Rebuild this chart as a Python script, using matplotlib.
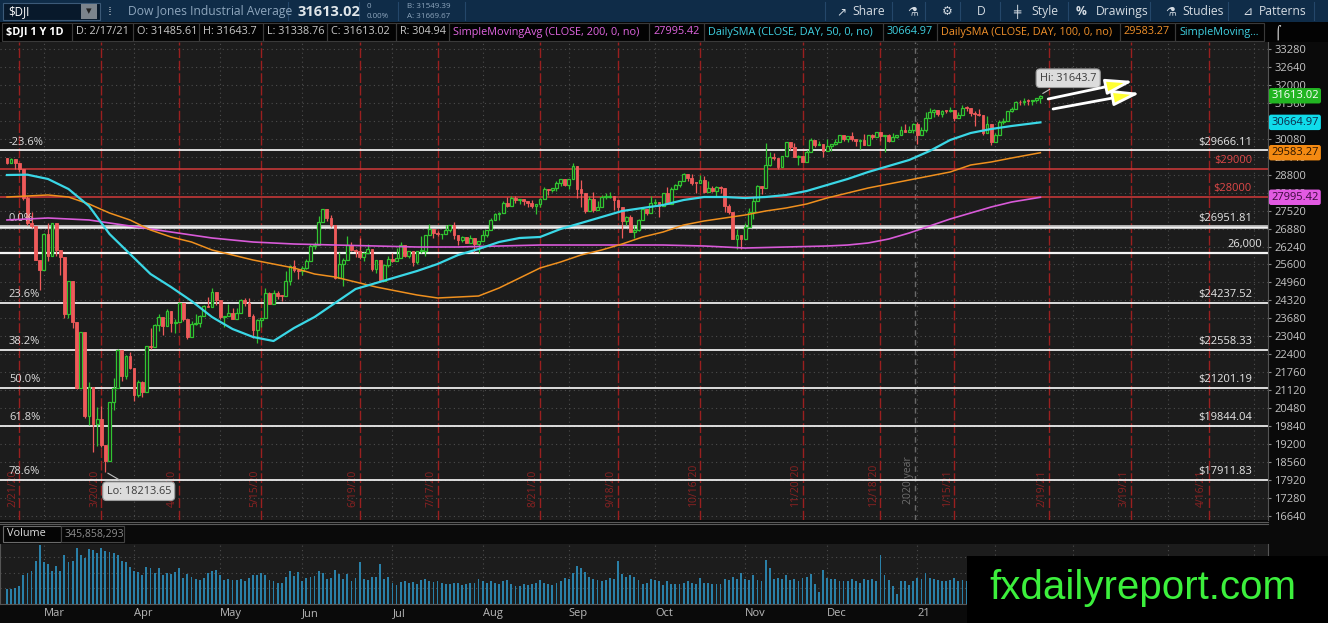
import numpy as np
import pandas as pd
import matplotlib
matplotlib.use("Agg")
import matplotlib.pyplot as plt
import matplotlib.transforms as mtransforms
from matplotlib.patches import Rectangle

plt.rcParams['font.family'] = ['Open Sans', 'DejaVu Sans']

# -------------------------------
# data: $DJI daily, 2/18/20 .. 2/17/21
# -------------------------------
HOLIDAYS = ['2020-04-10', '2020-05-25', '2020-07-03', '2020-09-07', '2020-11-26',
            '2020-12-25', '2021-01-01', '2021-01-18', '2021-02-15', '2021-04-02']

FIRST_OPEN = 29398.08

CLOSE = [
    29232, 29348, 29219, 28992, 27961, 27081, 26957, 25767, 25409,
    26703, 25917, 27091, 26121, 25865, 23851, 25018, 23553, 21200, 23186, 20189,
    21237, 19899, 20087, 19174, 18592, 20705, 21200, 22552, 21637, 22327, 21917,
    20944, 21413, 21053, 22680, 22654, 23434, 23719, 23390, 23950, 23505, 23538,
    24242, 23650, 23019, 23475, 23516, 23775, 24134, 24102, 24634, 24346,
    23724, 23750, 23883, 23665, 23876, 24331, 24222, 23765, 23248, 23625, 23685,
    24597, 24207, 24576, 24474, 24465, 24995, 25548, 25401, 25383,
    25475, 25742, 26270, 26282, 27111, 27572, 27272, 26990, 25128, 25606, 25763,
    26290, 26120, 26080, 25871, 26025, 26156, 25446, 25745, 25016, 25596, 25813,
    25735, 25827, 26287, 25890, 26067, 25706, 26075, 26086, 26643, 26870, 26735,
    26672, 26681, 26840, 27005, 26653, 26470, 26585, 26379, 26540, 26314, 26428,
    26664, 26828, 27201, 27387, 27433, 27791, 27687, 27977, 27897, 27931, 27845,
    27778, 27693, 27740, 27930, 28308, 28249, 28332, 28492, 28654, 28430,
    28646, 29101, 28293, 28133, 27501, 27940, 27535, 27666, 27993, 27996, 28032,
    27902, 27657, 27148, 27288, 26763, 26815, 27174, 27584, 27452, 27782,
    27817, 27683, 28149, 27773, 28303, 28426, 28587, 28838, 28680, 28515, 28495,
    28606, 28196, 28309, 28211, 28364, 28336, 27685, 27464, 26520, 26660, 26502,
    26925, 27481, 27848, 28391, 28323, 29158, 29421, 29398, 29080, 29480, 29950,
    29784, 29438, 29483, 29263, 29591, 30046, 29873, 29910, 29639,
    29824, 29883, 29970, 30218, 30070, 30174, 30069, 29999, 30046, 29862, 30200,
    30155, 30304, 30179, 30216, 30016, 30129, 30200, 30404, 30336, 30409, 30606,
    30224, 30392, 30829, 31041, 31098, 30960, 31068, 31061, 31112, 30814, 30931,
    31188, 31176, 30997, 30960, 30937, 30303, 30603, 29983,
    30212, 30688, 30724, 31056, 31148, 31386, 31375, 31438, 31431, 31458, 31523, 31613.02,
]

HIGH = [
    29409, 29409, 29369, 29137, 28402, 28026, 27465, 26917, 25665,
    26706, 27084, 27091, 26850, 25865, 24992, 25020, 24604, 22837, 23186, 21705,
    21395, 20604, 20531, 20568, 19121, 20705, 21565, 22596, 22327, 22378, 22480,
    21487, 21477, 21447, 22702, 23328, 23474, 23849, 23719, 24029, 23687, 23653,
    24264, 24100, 23597, 23590, 23835, 23800, 24154, 24457, 24765, 24596,
    24121, 23764, 24197, 24049, 24037, 24359, 24398, 24412, 23836, 23640, 23685,
    24770, 24618, 24705, 24666, 24529, 25351, 25588, 25764, 25439,
    25532, 25789, 26324, 26385, 27338, 27580, 27512, 27370, 26643, 26051, 25847,
    26611, 26415, 26159, 26543, 26049, 26344, 26064, 25758, 25665, 25605, 25906,
    25996, 26204, 26390, 26182, 26083, 26043, 26079, 26631, 26665, 27032, 26761,
    26799, 26681, 27025, 27008, 27103, 26587, 26618, 26557, 26646, 26332, 26430,
    26826, 26836, 27247, 27433, 27475, 27855, 28003, 28037, 28046, 27944, 27949,
    27860, 27882, 27740, 27976, 28362, 28308, 28342, 28581, 28660, 28600,
    28659, 29199, 29062, 28618, 27945, 28031, 28176, 27854, 28089, 28146, 28200,
    27921, 27877, 27414, 27315, 27365, 26999, 27207, 27659, 27587, 28044,
    27946, 27762, 28162, 28354, 28367, 28456, 28593, 28875, 28839, 28808, 28512,
    28794, 28738, 28574, 28414, 28409, 28401, 28234, 27750, 27101, 26880, 26638,
    27081, 27603, 28007, 28425, 28407, 29934, 29602, 29586, 29396, 29483, 29964,
    29940, 29916, 29487, 29459, 29667, 30116, 30052, 30010, 29867,
    30070, 29900, 30062, 30218, 30189, 30181, 30319, 30066, 30058, 30259, 30227,
    30259, 30314, 30315, 30223, 30249, 30275, 30209, 30525, 30600, 30525, 30637,
    30674, 30505, 31023, 31193, 31140, 31028, 31111, 31087, 31223, 31035, 31034,
    31272, 31250, 31117, 31062, 31144, 30825, 30891, 30491,
    30300, 30760, 30804, 31058, 31228, 31410, 31469, 31527, 31482, 31461, 31544, 31643.7,
]

LOW = [
    29183, 29277, 29003, 28886, 27888, 27000, 26918, 25751, 24681,
    25391, 25707, 26233, 25902, 25226, 23707, 23690, 23328, 21155, 21285, 20116,
    19890, 18917, 19137, 19094, 18213.65, 19028, 20412, 21469, 21454, 21522, 21863,
    20735, 20863, 20863, 21693, 22590, 22662, 23246, 23079, 23549, 23206, 23155,
    23770, 23600, 22941, 23200, 23432, 23372, 23857, 24090, 24275, 24157,
    23643, 23361, 23814, 23645, 23772, 24026, 24104, 23762, 22970, 22789, 23362,
    24092, 24182, 24368, 24369, 24285, 24943, 24875, 25339, 25077,
    25217, 25451, 25882, 26152, 26668, 27232, 27158, 26934, 25083, 25189, 24844,
    26000, 26092, 25864, 25804, 25718, 26052, 25358, 25285, 24971, 25075, 25493,
    25694, 25778, 26046, 25880, 25828, 25547, 25602, 26017, 25909, 26787, 26551,
    26607, 26495, 26790, 26743, 26508, 26290, 26401, 26356, 26384, 26031, 26001,
    26492, 26580, 26875, 27170, 27181, 27457, 27654, 27741, 27800, 27769, 27727,
    27656, 27628, 27400, 27649, 28113, 28076, 28199, 28205, 28410, 28403,
    28287, 28681, 27975, 27665, 27445, 27610, 27459, 27555, 27746, 27930, 27977,
    27549, 27464, 26537, 26999, 26744, 26537, 26782, 27325, 27376, 27478,
    27711, 27306, 27740, 27741, 27889, 28300, 28373, 28616, 28585, 28420, 28158,
    28505, 28133, 28238, 28177, 28034, 28164, 27458, 27412, 26506, 26143, 26143,
    26639, 27026, 27232, 28016, 28096, 28944, 29109, 29319, 28991, 29143, 29656,
    29670, 29428, 29161, 29239, 29280, 29670, 29800, 29841, 29430,
    29760, 29655, 29846, 29962, 30010, 29971, 29989, 29826, 29733, 29860, 29936,
    30075, 30202, 30013, 29604, 29965, 30025, 30101, 30233, 30310, 30370, 30300,
    29881, 30212, 30323, 30850, 30864, 30900, 30857, 30990, 31040, 30722, 30848,
    31011, 31055, 30889, 30542, 30908, 30210, 30361, 29856,
    29975, 30251, 30614, 30734, 31026, 31172, 31300, 31284, 31269, 31300, 31395, 31338.76,
]

# volume, millions of shares
VOLUME = [
    250, 260, 270, 300, 480, 520, 560, 720, 1000,
    700, 680, 560, 640, 560, 830, 700, 720, 950, 820, 780, 920, 910, 860, 950,
    900, 880, 860, 820, 720, 700, 620,
    560, 540, 480, 620, 600, 520, 610, 480, 520, 500, 540, 600, 440, 500, 450,
    420, 400, 440, 520, 560, 580,
    480, 400, 420, 410, 400, 420, 380, 430, 480, 480, 520, 480, 400, 380, 360,
    350, 460, 560, 470, 540,
    380, 440, 460, 470, 560, 520, 420, 440, 580, 500, 420, 500, 380, 430, 700,
    420, 400, 460, 450, 680, 420, 460,
    360, 320, 370, 380, 360, 370, 340, 400, 420, 380, 370, 380, 360, 330, 340,
    350, 360, 320, 330, 360, 360, 420,
    380, 360, 380, 350, 330, 380, 400, 330, 300, 300, 330, 320, 340, 350, 400,
    360, 340, 320, 360, 380, 440,
    420, 520, 640, 600, 540, 460, 420, 400, 380, 400, 440, 420, 720, 500, 460,
    480, 450, 400, 340, 360, 420,
    400, 380, 320, 380, 340, 340, 330, 360, 380, 360, 340, 440, 360, 350, 340,
    340, 330, 420, 400, 460, 420, 520,
    420, 400, 480, 400, 380, 740, 600, 420, 440, 420, 480, 400, 420, 380, 430,
    460, 500, 340, 200, 580,
    440, 420, 420, 380, 380, 380, 420, 380, 360, 420, 400, 420, 380, 830, 480,
    400, 300, 170, 380, 380, 320, 380,
    440, 420, 520, 440, 420, 400, 390, 380, 400, 440, 380, 400, 380, 420, 400,
    360, 480, 440, 500,
    420, 380, 370, 380, 360, 380, 360, 380, 370, 340, 400, 345.86,
]

# moving averages (bar index, value)
MA_IDX = [0, 5, 10, 15, 20, 25, 30, 35, 40, 45, 50, 55, 60, 65, 70, 75, 80, 85, 90,
          95, 100, 105, 110, 115, 120, 125, 130, 135, 140, 145, 150, 155, 160, 165,
          170, 175, 180, 185, 190, 195, 200, 205, 210, 215, 220, 225, 230, 235, 240,
          245, 252]
SMA50 = [28789, 28800, 28647, 28290, 27684, 26687, 25974, 25261, 24798, 24299, 23728,
         23301, 23016, 22873, 23336, 23728, 24227, 24726, 24940, 25154, 25368, 25617,
         25938, 26152, 26401, 26544, 26580, 26865, 27078, 27292, 27506, 27613, 27720,
         27898, 28005, 28005, 27970, 28005, 28077, 28219, 28433, 28647, 28896, 29110,
         29324, 29645, 30037, 30286, 30429, 30536, 30664.97]
SMA100 = [28005, 28041, 28077, 28005, 27756, 27435, 27186, 26829, 26580, 26401, 26116,
          25938, 25760, 25617, 25475, 25261, 25154, 24976, 24798, 24655, 24513, 24406,
          24441, 24477, 24762, 25118, 25475, 25689, 25938, 26116, 26330, 26580, 26758,
          27007, 27150, 27257, 27364, 27506, 27613, 27756, 27970, 28148, 28326, 28469,
          28611, 28754, 28896, 29146, 29253, 29395, 29583.27]
SMA200_IDX = [0, 10, 20, 30, 40, 50, 60, 70, 80, 90, 100, 110, 120, 130, 140, 150, 160,
              170, 180, 190, 200, 205, 210, 215, 220, 225, 230, 235, 240, 245, 252]
SMA200 = [27186, 27257, 27186, 26972, 26758, 26544, 26401, 26330, 26294, 26259, 26223,
          26223, 26259, 26294, 26294, 26294, 26294, 26259, 26187, 26223, 26259, 26294,
          26366, 26508, 26722, 26972, 27221, 27435, 27649, 27827, 27995.42]

FIB_LEVELS = [29666.11, 26951.81, 24237.52, 22558.33, 21201.19, 19844.04, 17911.83]
FIB_PCT = ['-23.6%', '0.0%', '23.6%', '38.2%', '50.0%', '61.8%', '78.6%']
FIB_TAGS = ['$29666.11', '$26951.81', '$24237.52', '$22558.33', '$21201.19',
            '$19844.04', '$17911.83']
RED_LEVELS = [29000, 28000]
RED_TAGS = ['$29000', '$28000']
ROUND_LEVEL = 26000

EXPIRY = ['2020-02-21', '2020-03-20', '2020-04-17', '2020-05-15', '2020-06-19',
          '2020-07-17', '2020-08-21', '2020-09-18', '2020-10-16', '2020-11-20',
          '2020-12-18', '2021-01-15', '2021-02-19', '2021-03-19', '2021-04-16']

YTICKS = np.arange(16640, 33281, 640)

# -------------------------------
# colours
# -------------------------------
BG = '#1c1c1c'
GREEN = '#31c431'
RED = '#ee5a5a'
CYAN = '#3ad7e6'
ORANGE = '#f0901e'
MAGENTA = '#d85ad8'

W, H = 1328, 623
fig = plt.figure(figsize=(W / 100, H / 100), dpi=100, facecolor='#0a0a0a')


def fx(x):
    return x / W


def fy(y):
    return 1 - y / H


def frect(x0, y0, x1, y1, **kw):
    kw.setdefault('zorder', 0)
    fig.patches.append(Rectangle((fx(x0), fy(y1)), (x1 - x0) / W, (y1 - y0) / H,
                                 transform=fig.transFigure, **kw))


def ftext(x, y, s, **kw):
    kw.setdefault('va', 'center')
    fig.text(fx(x), fy(y), s, **kw)


# trading calendar
cal = pd.bdate_range('2020-02-18', '2021-05-31', freq='C', holidays=HOLIDAYS)
n = len(CLOSE)
idx = np.arange(n)
XMIN, XMAX = -1.7, 307.5

month_pos, month_lab = [], []
for i in range(1, len(cal)):
    if cal[i].month != cal[i - 1].month and i < XMAX:
        month_pos.append(i)
        month_lab.append('21' if cal[i].month == 1 else cal[i].strftime('%b'))
year_pos = [p - 0.5 for p, l in zip(month_pos, month_lab) if l == '21'][0]
exp_pos = cal.get_indexer(pd.to_datetime(EXPIRY))

# -------------------------------
# price panel
# -------------------------------
ax = fig.add_axes([0, fy(520), 1268 / W, (520 - 42) / H], facecolor=BG)
ax.set_xlim(XMIN, XMAX)
ax.set_ylim(16494, 33529)
for s in ['top', 'left', 'bottom']:
    ax.spines[s].set_visible(False)
ax.spines['right'].set_color('#555555')
ax.yaxis.tick_right()
ax.set_yticks(YTICKS)
ax.tick_params(axis='y', colors='#888888', labelcolor='#c4c4c4', labelsize=8,
               length=2.5, pad=2, width=0.8)
ax.set_xticks(month_pos)
ax.tick_params(axis='x', length=0, labelbottom=False)
ax.grid(True, color='#4c4c4c', ls=(0, (1, 3)), lw=0.8)
ax.set_axisbelow(True)

# option expiration lines
for p, d in zip(exp_pos, EXPIRY):
    ax.axvline(p, color='#9a1f1f', lw=1, ls=(0, (7, 2)), zorder=1)
    t = pd.Timestamp(d)
    ax.text(p - 0.3, 16960, f'{t.month}/{t.day}/{t.strftime("%y")}', rotation=90,
            ha='right', va='bottom', color='#8c2222', fontsize=7.5, zorder=1)
ax.axvline(year_pos, color='#6a6a6a', lw=1, ls=(0, (4, 3)), zorder=1)
ax.text(year_pos - 0.4, 17050, '2020 year', rotation=90, ha='right', va='bottom',
        color='#6e6e6e', fontsize=7.5, zorder=1)

# horizontal levels
yx = mtransforms.blended_transform_factory(ax.transAxes, ax.transData)
for lvl, pct, tag in zip(FIB_LEVELS, FIB_PCT, FIB_TAGS):
    if pct == '0.0%':
        ax.axhline(lvl, color='#b8b8b8', lw=2.8, zorder=2)
        ax.axhline(lvl, color='#f2f2f2', lw=1.0, zorder=2)
    else:
        ax.axhline(lvl, color='#ececec', lw=1.3, zorder=2)
    ax.annotate(pct, (0.007, lvl), xycoords=yx, xytext=(0, 2), textcoords='offset points',
                ha='left', va='bottom', color='#dcdcdc', fontsize=8, zorder=5)
    ax.annotate(tag, (1252 / 1268, lvl), xycoords=yx, xytext=(0, 2),
                textcoords='offset points', ha='right', va='bottom', color='#e6e6e6',
                fontsize=8, zorder=5)
for lvl, tag in zip(RED_LEVELS, RED_TAGS):
    ax.axhline(lvl, color='#d23a3a', lw=1.1, zorder=2)
    ax.annotate(tag, (1252 / 1268, lvl), xycoords=yx, xytext=(0, 2),
                textcoords='offset points', ha='right', va='bottom', color='#e04848',
                fontsize=8, zorder=5)
ax.axhline(ROUND_LEVEL, color='#f4f4f4', lw=1.6, zorder=2)
ax.annotate('26,000', (1262 / 1268, ROUND_LEVEL), xycoords=yx, xytext=(0, 2),
            textcoords='offset points', ha='right', va='bottom', color='#e6e6e6',
            fontsize=8, zorder=5)

# candles
close = np.array(CLOSE, dtype=float)
opn = np.r_[FIRST_OPEN, close[:-1]]
high = np.maximum(np.array(HIGH, dtype=float), np.maximum(opn, close))
low = np.minimum(np.array(LOW, dtype=float), np.minimum(opn, close))
up = close >= opn
ax.vlines(idx, low, high, colors=np.where(up, GREEN, RED), lw=0.9, zorder=3)
bot = np.minimum(opn, close)
hgt = np.maximum(np.abs(close - opn), 30)
ax.bar(idx[up], hgt[up], bottom=bot[up], width=0.68, facecolor=BG, edgecolor=GREEN,
       lw=0.9, zorder=4)
ax.bar(idx[~up], hgt[~up], bottom=bot[~up], width=0.68, facecolor=RED, edgecolor=RED,
       lw=0.6, zorder=4)

# moving averages
ax.plot(SMA200_IDX, SMA200, color=MAGENTA, lw=1.2, zorder=5)
ax.plot(MA_IDX, SMA100, color=ORANGE, lw=1.1, zorder=5)
ax.plot(MA_IDX, SMA50, color=CYAN, lw=1.6, zorder=5)

# hi / lo bubbles
i_hi, i_lo = int(np.argmax(high)), int(np.argmin(low))
ax.annotate(f'Hi: {high[i_hi]:g}', (i_hi, high[i_hi]), xytext=(20, 12),
            textcoords='offset points', ha='center', va='center', fontsize=7.8,
            color='#3a3a3a', zorder=7,
            bbox=dict(boxstyle='round,pad=0.35', fc='#dcdcdc', ec='#9c9c9c', lw=0.8),
            arrowprops=dict(arrowstyle='-', color='#c0c0c0', lw=0.8))
ax.annotate(f'Lo: {low[i_lo]:.2f}', (i_lo, low[i_lo]), xytext=(24, -14),
            textcoords='offset points', ha='center', va='center', fontsize=7.8,
            color='#3a3a3a', zorder=7,
            bbox=dict(boxstyle='round,pad=0.35', fc='#dcdcdc', ec='#9c9c9c', lw=0.8),
            arrowprops=dict(arrowstyle='-', color='#c0c0c0', lw=0.8))

# drawn trend arrows
for (x0, y0), (x1, y1) in [((253.9, 31498), (274.6, 32139)),
                           ((255.1, 31142), (276.3, 31712))]:
    ax.annotate('', xy=(x1, y1), xytext=(x0, y0), zorder=8,
                arrowprops=dict(arrowstyle='-|>,head_length=1.1,head_width=0.32',
                                mutation_scale=15, fc='#ffff30', ec='white', lw=2,
                                shrinkA=0, shrinkB=0))

# last-value tags on the price axis
for val, fc, tc in [(close[-1], '#22b522', 'white'), (SMA50[-1], '#10dcea', '#0c2a48'),
                    (SMA100[-1], '#f48a12', '#2a1400'), (SMA200[-1], '#e25ae2', '#3a0a3a')]:
    ax.text(1.0025, val, f'{val:.2f}', transform=yx, ha='left', va='center',
            fontsize=8, color=tc, zorder=9,
            bbox=dict(boxstyle='round,pad=0.2', fc=fc, ec='none'))

# -------------------------------
# volume panel
# -------------------------------
axv = fig.add_axes([0, fy(604), 1268 / W, 60 / H], facecolor=BG)
axv.bar(idx, VOLUME, width=0.45, color='#2a80a8', zorder=3)
axv.set_xlim(XMIN, XMAX)
axv.set_ylim(0, 1010)
axv.spines['top'].set_visible(False)
for s in ['left', 'bottom', 'right']:
    axv.spines[s].set_color('#555555')
axv.yaxis.tick_right()
axv.set_yticks([270, 530, 790])
axv.tick_params(axis='y', length=0, labelright=False)
axv.set_xticks(month_pos)
axv.set_xticklabels(month_lab, ha='left')
axv.tick_params(axis='x', length=0, pad=3, labelsize=8, labelcolor='#b8b8b8')
axv.grid(True, color='#4c4c4c', ls=(0, (1, 3)), lw=0.8)
axv.set_axisbelow(True)

# separator + volume header
frect(0, 520, 1268, 544, fc='#0a0a0a', ec='none')
fig.add_artist(plt.Line2D([0, fx(1268)], [fy(521.5)] * 2, color='#5a5a5a', lw=0.8))
fig.add_artist(plt.Line2D([0, fx(1268)], [fy(524)] * 2, color='#5a5a5a', lw=0.8))
frect(3, 526, 61, 542, fc='#050505', ec='#6a6a6a', lw=0.8)
frect(61, 526, 124, 542, fc='#050505', ec='#444444', lw=0.8)
ftext(7, 534, 'Volume', color='#dddddd', fontsize=7.8)
ftext(65, 534, '345,858,293', color='#8c8c8c', fontsize=7.6)

# -------------------------------
# toolbar + study header
# -------------------------------
frect(0, 0, W, 22, fc='#0f2c48', ec='none')
frect(3, 3, 100, 20, fc='#08192b', ec='#3c5a78', lw=0.8)
frect(81, 4, 97, 19, fc='#7c848c', ec='none')
ftext(8, 11.5, '$DJI', color='white', fontsize=8.3)
ftext(89, 11.5, '▾', color='#222222', fontsize=8, ha='center')
ftext(108, 11.5, '⁞', color='#c0c8d0', fontsize=9)
ftext(128, 11.5, 'Dow Jones Industrial Average', color='#8ea6bd', fontsize=8.7)
ftext(297, 11.5, '31613.02', color='#e0e6ea', fontsize=10.5, fontweight='bold')
ftext(367, 6.5, '0', color='#8ea6bd', fontsize=5.8)
ftext(367, 16, '0.00%', color='#8ea6bd', fontsize=5.8)
ftext(407, 6.5, 'B: 31549.39', color='#8ea6bd', fontsize=5.8)
ftext(407, 16, 'A: 31669.67', color='#8ea6bd', fontsize=5.8)
for xs in [288, 359, 398, 465]:
    fig.add_artist(plt.Line2D([fx(xs)] * 2, [fy(2), fy(20)], color='#24476a', lw=0.8))
for xs in [825, 892, 925, 960, 1000, 1068, 1150, 1228, 1314]:
    fig.add_artist(plt.Line2D([fx(xs)] * 2, [fy(2), fy(20)], color='#24476a', lw=0.8))
TB = '#d4dbe2'
for txt, xs in [('↗', 836), ('Share', 852), ('⚗', 907), ('⚙', 942), ('D', 977),
                ('╪', 1013), ('Style', 1031), ('%', 1076), ('Drawings', 1096),
                ('⚗', 1165), ('Studies', 1182), ('⊿', 1242), ('Patterns', 1259)]:
    ftext(xs, 11.5, txt, color=TB, fontsize=8.7,
          fontweight='bold' if txt in ('%', '⚙') else 'normal')

frect(0, 22, W, 42, fc='#030303', ec='none')
HDR = [('$DJI 1 Y 1D', 6, '#ffffff', 'bold'), ('D: 2/17/21', 76, '#c8c8c8', 'normal'),
       ('O: 31485.61', 137, '#c8c8c8', 'normal'), ('H: 31643.7', 203, '#c8c8c8', 'normal'),
       ('L: 31338.76', 267, '#c8c8c8', 'normal'), ('C: 31613.02', 331, '#c8c8c8', 'normal'),
       ('R: 304.94', 400, '#c8c8c8', 'normal'),
       ('SimpleMovingAvg (CLOSE, 200, 0, no)', 453, '#e065e0', 'normal'),
       ('27995.42', 653, '#e065e0', 'normal'),
       ('DailySMA (CLOSE, DAY, 50, 0, no)', 708, '#3fcfe0', 'normal'),
       ('30664.97', 887, '#3fcfe0', 'normal'),
       ('DailySMA (CLOSE, DAY, 100, 0, no)', 941, '#f0902a', 'normal'),
       ('29583.27', 1124, '#f0902a', 'normal'),
       ('SimpleMoving...', 1179, '#3fcfe0', 'normal')]
edges = [h[1] for h in HDR] + [1268]
for (txt, xs, col, wt), xe in zip(HDR, edges[1:]):
    frect(xs - 4, 23, xe - 4, 41, fc='none', ec='#3a3a3a', lw=0.8)
    ftext(xs, 32, txt, color=col, fontsize=7.8, fontweight=wt)
ftext(1274, 32, '⌠', color='#d0d0d0', fontsize=9)

# -------------------------------
# watermark
# -------------------------------
frect(967, 556, W, H, fc='#000000', ec='none', zorder=5)
ftext(1143, 588, 'fxdailyreport.com', color='#3cf03c', fontsize=29, ha='center',
      family='Liberation Sans', zorder=6)

fig.savefig('out.png', dpi=100, facecolor=fig.get_facecolor())
